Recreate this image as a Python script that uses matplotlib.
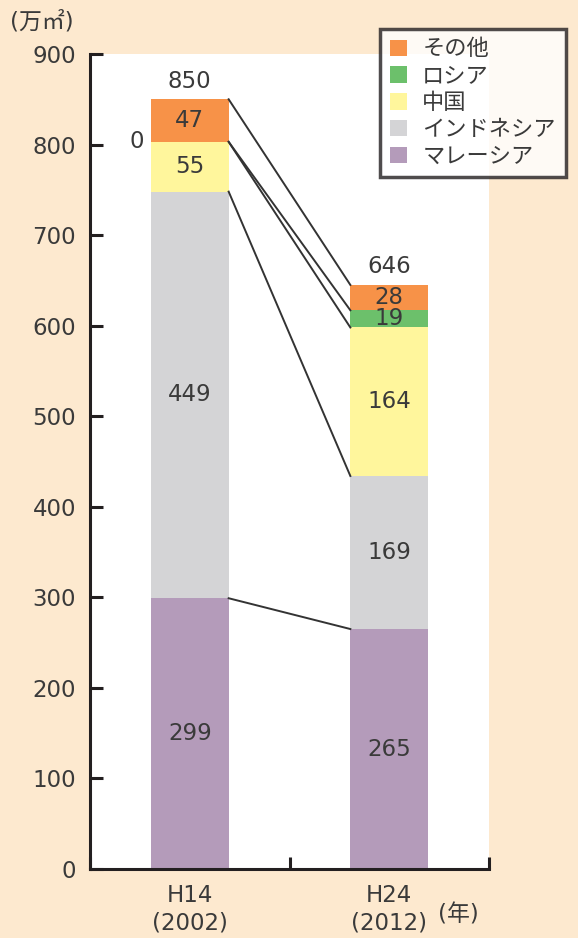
import matplotlib
matplotlib.use("Agg")
import matplotlib.pyplot as plt
import numpy as np

plt.rcParams["font.family"] = ["DejaVu Sans", "Noto Sans CJK JP"]

# data (万㎡)
years = ["H14\n(2002)", "H24\n(2012)"]
series = ["マレーシア", "インドネシア", "中国", "ロシア", "その他"]
malaysia = [299, 265]
indonesia = [449, 169]
china = [55, 164]
russia = [0, 19]
other = [47, 28]
totals = [850, 646]

COLORS = ["#B49BBA", "#D4D4D6", "#FFF69C", "#6CC06B", "#F79248"]
BG = "#FDE9CF"
TXT = "#3A3A3A"
FS = 16.5

fig = plt.figure(figsize=(5.78, 9.38), dpi=100, facecolor=BG)
ax = fig.add_axes([90 / 578, 1 - 869 / 938, 399 / 578, 815 / 938])
ax.set_facecolor("white")

x = np.array([0.5, 1.5])
w = 0.39
values = [malaysia, indonesia, china, russia, other]
bottom = np.zeros(2)
tops = []
for name, vals, col in zip(series, values, COLORS):
    vals = np.array(vals, dtype=float)
    ax.bar(x, vals, w, bottom=bottom, color=col, label=name, zorder=2)
    for i in range(2):
        if vals[i] > 0:
            ax.text(x[i], bottom[i] + vals[i] / 2, f"{int(vals[i])}",
                    ha="center", va="center", fontsize=FS, color=TXT, zorder=4)
    bottom = bottom + vals
    tops.append(bottom.copy())

# connectors between matching segment tops
for t in tops:
    ax.plot([x[0] + w / 2, x[1] - w / 2], [t[0], t[1]],
            color="#333333", lw=1.4, zorder=3)

# totals above bars
for i in range(2):
    ax.text(x[i], totals[i] + 7, f"{totals[i]}", ha="center", va="bottom",
            fontsize=FS, color=TXT)
# zero label for russia on first bar
ax.text(x[0] - w / 2 - 0.07, tops[3][0], "0", ha="center", va="center",
        fontsize=FS, color=TXT)

ax.set_xlim(0, 2)
ax.set_ylim(0, 900)
ax.set_yticks(np.arange(0, 901, 100))
ax.tick_params(axis="y", direction="in", length=9, width=2.2, labelsize=FS,
               pad=10, colors="#231F20", labelcolor=TXT)
ax.set_xticks([0, 1, 2])
ax.set_xticklabels([])
ax.set_xticks(x, minor=True)
ax.set_xticklabels(years, minor=True, fontsize=FS, color=TXT, linespacing=1.25)
ax.tick_params(axis="x", which="major", direction="in", length=9, width=2.2,
               colors="#231F20")
ax.tick_params(axis="x", which="minor", length=0, pad=11)

for s in ["top", "right"]:
    ax.spines[s].set_visible(False)
for s in ["left", "bottom"]:
    ax.spines[s].set_linewidth(2.2)
    ax.spines[s].set_color("#231F20")

fig.text(10 / 578, 1 - 22 / 938, "(万㎡)", fontsize=FS, color=TXT,
         ha="left", va="center")
fig.text(438 / 578, 1 - 915 / 938, "(年)", fontsize=FS, color=TXT,
         ha="left", va="center")

handles, labels = ax.get_legend_handles_labels()
leg = fig.legend(handles[::-1], labels[::-1], loc="upper left",
                 bbox_to_anchor=(380 / 578, 1 - 29 / 938), frameon=True,
                 fancybox=False, fontsize=16, handlelength=0.75, handleheight=0.75,
                 handletextpad=0.7, labelspacing=0.3, borderpad=0.45,
                 borderaxespad=0)
leg.get_frame().set_edgecolor("#231F20")
leg.get_frame().set_linewidth(2.5)
for t in leg.get_texts():
    t.set_color(TXT)

fig.savefig("out.png", dpi=100, facecolor=BG)
